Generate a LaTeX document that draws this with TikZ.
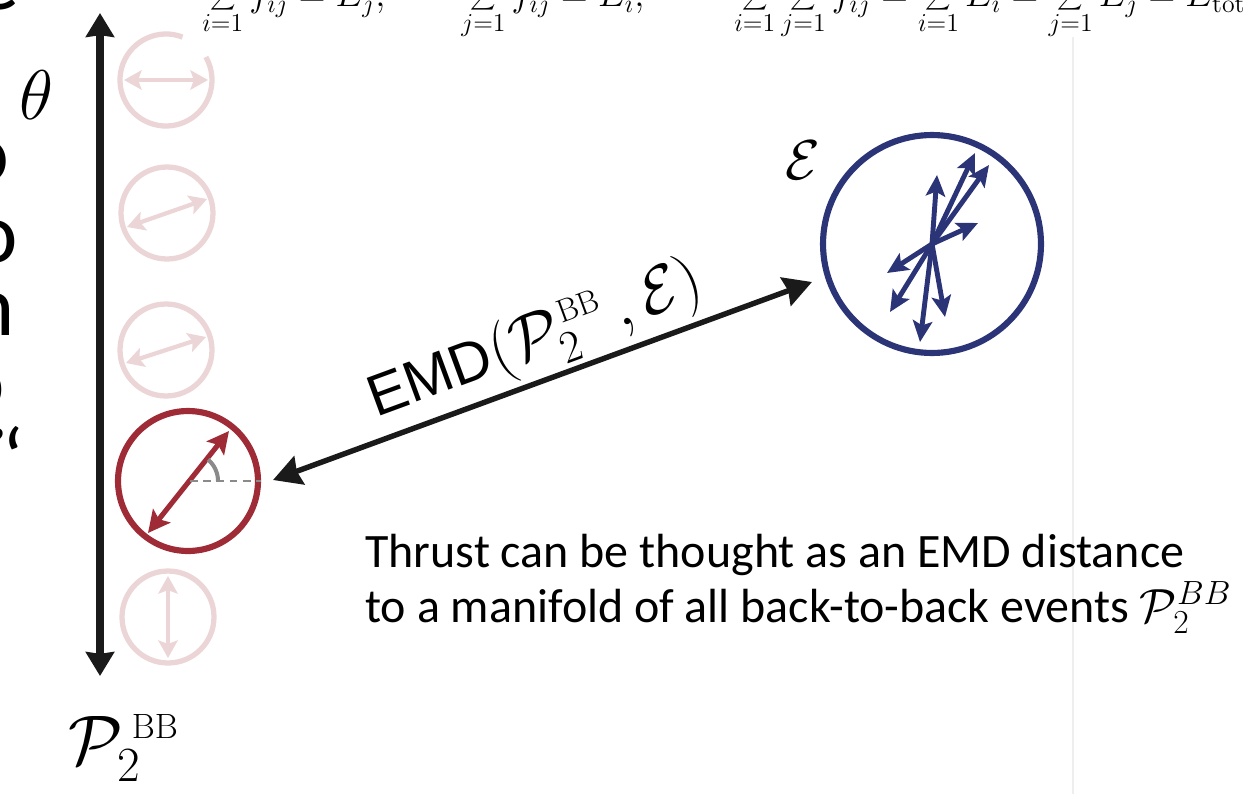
\RequirePackage{fix-cm}
\documentclass[tikz,border=0pt]{standalone}
\usepackage[no-math]{fontspec}
\setmainfont{Carlito}
\newfontfamily\arialfont{Liberation Sans}
\usetikzlibrary{arrows.meta}
\definecolor{fadepink}{HTML}{EBD5D7}
\definecolor{thrustred}{HTML}{9E2B35}
\definecolor{eventblue}{HTML}{2B3476}
\definecolor{inkblack}{HTML}{1A1A1A}
\definecolor{anglegray}{HTML}{8A8A8A}
\definecolor{rulegray}{HTML}{EEEEEE}
\begin{document}
\begin{tikzpicture}[x=0.02cm,y=-0.02cm,
  fadering/.style={circle, draw=fadepink, line width=3pt, minimum size=1.84cm, inner sep=0},
  fadearrow/.style={draw=fadepink, line width=2.4pt,
    {Stealth[length=10pt,width=11pt,inset=2pt]}-{Stealth[length=10pt,width=11pt,inset=2pt]}},
  redring/.style={circle, draw=thrustred, line width=3.5pt, minimum size=2.8cm, inner sep=0},
  redarrow/.style={draw=thrustred, line width=2.9pt,
    {Stealth[length=12.5pt,width=12.5pt,inset=2.5pt]}-{Stealth[length=12.5pt,width=12.5pt,inset=2.5pt]}},
  bluering/.style={circle, draw=eventblue, line width=3.5pt, minimum size=4.36cm, inner sep=0},
  bluearrow/.style={draw=eventblue, line width=2.8pt, -{Stealth[length=12pt,width=11pt,inset=2.5pt]}},
  axisarrow/.style={draw=inkblack, line width=4.5pt,
    {Stealth[length=13.6pt,width=16pt,inset=1pt]}-{Stealth[length=13.6pt,width=16pt,inset=1pt]}},
  emdarrow/.style={draw=inkblack, line width=3.1pt,
    {Stealth[length=15.9pt,width=17pt,inset=1.5pt]}-{Stealth[length=15.9pt,width=17pt,inset=1.5pt]}},
  cliptext/.style={inner sep=0, anchor=base east, font=\fontsize{49}{55}\selectfont},
  sumtext/.style={inner sep=0, anchor=base west, font=\fontsize{21}{25}\selectfont},
]
\useasboundingbox (0,0) rectangle (1256,794);
\clip (0,0) rectangle (1256,794);

% faint slide rule on the right
\coordinate (ruletop) at (1073,37);
\coordinate (rulebot) at (1073,794);
\draw[rulegray, line width=1.1pt] (ruletop) -- (rulebot);

% clipped text fragments on the left edge
\node[cliptext] (fragA) at (20,10) {e};
\node[cliptext, font=\fontsize{49}{55}\selectfont\bfseries] (fragB) at (9,182) {o};
\node[cliptext] (fragC) at (18,262) {o};
\node[cliptext] (fragD) at (15,335) {n};
\node[cliptext] (fragE) at (5,410) {o};
\node[cliptext] (fragF) at (24,488) {$\mathcal{E}$\kern-3pt‘};

% clipped constraint formulas at the top
\node[sumtext] (sumA) at (202,7) {$\displaystyle\sum_{i=1} f_{ij} = E_j,$};
\node[sumtext] (sumB) at (461,7) {$\displaystyle\sum_{j=1} f_{ij} = E_i,$};
\node[sumtext] (sumC) at (734,7) {$\displaystyle\sum_{i=1}\sum_{j=1} f_{ij} = \sum_{i=1} E_i = \sum_{j=1} E_j = E_{\mathrm{tot}}$};

% theta label
\node[font=\fontsize{40}{46}\selectfont, inner sep=0] (theta) at (36,95) {$\theta$};

% vertical axis
\coordinate (axtop) at (100,13);
\coordinate (axbot) at (100,676);
\draw[axisarrow] (axbot) -- (axtop);

% faded back-to-back configurations
\coordinate (ringA) at (166,80);
\draw[draw=fadepink, line width=3pt] (ringA) ++(-69:46) arc[start angle=-69, end angle=-390, radius=46];
\draw[fadearrow] ([shift={(-42,0)}]ringA) -- ([shift={(42,0)}]ringA);
\node[fadering] (ringB) at (167,213) {};
\draw[fadearrow] ([shift={(-40,14)}]ringB.center) -- ([shift={(40,-14)}]ringB.center);
\node[fadering] (ringC) at (166,350) {};
\draw[fadearrow] ([shift={(-40,13)}]ringC.center) -- ([shift={(40,-13)}]ringC.center);
\node[fadering] (ringE) at (168,617) {};
\draw[fadearrow] ([shift={(0,41)}]ringE.center) -- ([shift={(0,-41)}]ringE.center);

% highlighted configuration
\node[redring] (ringD) at (188,481) {};
\draw[redarrow] ([shift={(-40,52)}]ringD.center) -- ([shift={(41,-50)}]ringD.center);
\coordinate (angc) at (190,481);
\draw[anglegray, line width=1.2pt, dash pattern=on 4.5pt off 3pt] (angc) -- (ringD.east);
\draw[anglegray, line width=2.3pt] (angc) ++(28,0) arc[start angle=0, end angle=-50, radius=28];

% event
\node[bluering] (event) at (932,244) {};
\node[font=\fontsize{32}{38}\selectfont, inner sep=0] (evlabel) at (803,160) {$\mathcal{E}$};
\coordinate (ec) at (932,244);
\foreach \tx/\ty in {975/153, 989/165, 937/175, 978/223, 887/273, 890/312, 945/317, 920/342}
  \draw[bluearrow] (ec) -- (\tx,\ty);

% EMD arrow
\coordinate (emdL) at (273,480);
\coordinate (emdR) at (812,282);
\draw[emdarrow] (emdL) -- (emdR);
\node[rotate=20.2, anchor=south, inner sep=0pt, font=\fontsize{33}{39}\selectfont] (emdlabel) at (547,372)
  {{\arialfont EMD}{\fontsize{37}{43}\selectfont$(\mathcal{P}_2^{\kern2pt\scriptscriptstyle\mathrm{BB}}\,,\mathcal{E})$}};

% manifold label
\node[anchor=base west, inner sep=0, font=\fontsize{40}{46}\selectfont] (pbb) at (68,764)
  {$\mathcal{P}_2^{\kern5pt\scriptscriptstyle\mathrm{BB}}$};

% explanation
\node[anchor=base west, inner sep=0, font=\fontsize{27.3}{33}\selectfont] (thrustA) at (365,567)
  {Thrust can be thought as an EMD distance};
\node[anchor=base west, inner sep=0, font=\fontsize{27.3}{33}\selectfont] (thrustB) at (365,622)
  {to a manifold of all back-to-back events $\mathcal{P}_2^{BB}$};
\end{tikzpicture}
\end{document}
